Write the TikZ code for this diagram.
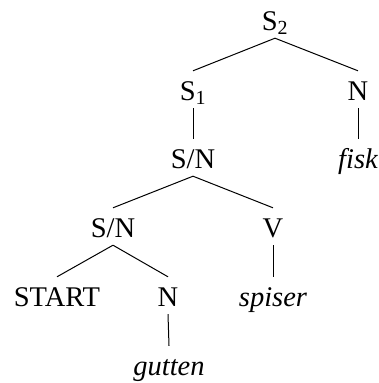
\documentclass[tikz,border=0pt]{standalone}
\usepackage{fontspec}
\setmainfont{Liberation Serif}
\usepackage{tikz}

\tikzset{
  cat/.style={anchor=base,inner xsep=2pt,inner ysep=8pt,text height=21pt,text depth=0pt,
              font=\fontsize{28.5}{34}\selectfont},
  word/.style={cat,font=\fontsize{28.5}{34}\selectfont\itshape},
  branch/.style={line width=1pt,black}
}

\begin{document}
\begin{tikzpicture}[x=1pt,y=-1pt]
  \useasboundingbox (0,0) rectangle (378,383);
  % categories
  \node[cat] (s2)  at (275,30)  {S\textsubscript{2}};
  \node[cat] (s1)  at (193,100) {S\textsubscript{1}};
  \node[cat] (n1)  at (358,100) {N};
  \node[cat] (sn1) at (193,168) {S/N};
  \node[cat] (sn2) at (113,237) {S/N};
  \node[cat] (v)   at (273,237) {V};
  \node[cat] (start) at (57,306) {START};
  \node[cat] (n2)  at (168,306) {N};
  % words
  \node[word] (fisk)   at (358,168) {fisk};
  \node[word] (spiser) at (273,306) {spiser};
  \node[word] (gutten) at (169,375) {gutten};
  % branches
  \draw[branch] (s2.south) -- (s1.north);
  \draw[branch] (s2.south) -- (n1.north);
  \draw[branch] (s1.south) -- (sn1.north);
  \draw[branch] (n1.south) -- (fisk.north);
  \draw[branch] (sn1.south) -- (sn2.north);
  \draw[branch] (sn1.south) -- (v.north);
  \draw[branch] (sn2.south) -- (start.north);
  \draw[branch] (sn2.south) -- (n2.north);
  \draw[branch] (v.south) -- (spiser.north);
  \draw[branch] (n2.south) -- (gutten.north);
\end{tikzpicture}
\end{document}
